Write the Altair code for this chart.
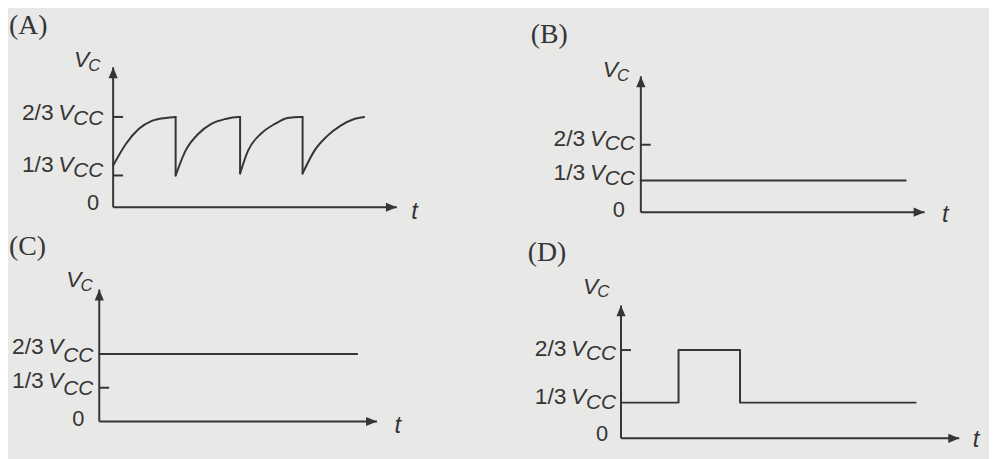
import altair as alt
import pandas as pd

# ---------------- data ----------------
PANEL_NAMES = ["(A)", "(B)", "(C)", "(D)"]
LEVELS = [0, 1 / 3, 2 / 3]
LEVEL_TEXT = ["0", "1/3", "2/3"]
UNIT_TEXT = "V"
UNIT_SUB = "CC"
Y_NAME = "V"
Y_SUB = "C"
X_NAME = "t"
V_TOP = 1.0  # top of the vertical axis (arrow tip)

# (A) charging / discharging sawtooth, t in arbitrary time units, v in fractions of Vcc
A_T = [0, 13, 26, 39, 53, 63,
       63, 63,
       63, 73, 86, 99, 113, 126, 128,
       128, 128,
       128, 136, 149, 163, 176, 189, 191,
       191, 191,
       191, 203, 216, 229, 243, 253]
A_V = [0.39, 0.514, 0.599, 0.644, 0.661, 0.667,
       0.667, 0.333,
       0.333, 0.475, 0.571, 0.627, 0.655, 0.667, 0.667,
       0.667, 0.345,
       0.345, 0.475, 0.571, 0.627, 0.661, 0.667, 0.667,
       0.667, 0.345,
       0.345, 0.475, 0.559, 0.616, 0.655, 0.667]
A_SEG = [0] * 6 + [1] * 2 + [2] * 7 + [3] * 2 + [4] * 7 + [5] * 2 + [6] * 6

# (B) constant at 1/3 Vcc
B_T = [0, 267]
B_V = [1 / 3, 1 / 3]
B_SEG = [0, 0]

# (C) constant at 2/3 Vcc
C_T = [0, 260]
C_V = [2 / 3, 2 / 3]
C_SEG = [0, 0]

# (D) single pulse
D_T = [0, 58, 58, 120, 120, 297]
D_V = [1 / 3, 1 / 3, 2 / 3, 2 / 3, 1 / 3, 1 / 3]
D_SEG = [0, 0, 0, 0, 0, 0]

SIGNALS = [(A_T, A_V, A_SEG), (B_T, B_V, B_SEG), (C_T, C_V, C_SEG), (D_T, D_V, D_SEG)]
AXIS_END = [286, 286, 280, 341]          # length of the time axis
TICKS = [[1 / 3, 2 / 3], [2 / 3], [1 / 3], [2 / 3]]
TICK_LEN = 10

# ---------------- styles / layout ----------------
INK = "#353535"
BG = "#e8e8e6"
SANS = "Liberation Sans"
SERIF = "Liberation Serif"

LAYOUT = [
    dict(w=492, h=222, xdom=[-106, 386], yr=[199, 167, 108, 58], gap=10,
         lv=[(-11, -4), (-4, 2)], zero=(-14, -4), vc=(-24, -7), name=(-105, -42),
         tl=(18, 5), interp="monotone"),
    dict(w=497, h=222, xdom=[-146, 351], yr=[204, 172, 136, 67], gap=6,
         lv=[(-7, -1), (-6, -1)], zero=(-16, -2), vc=(-23, -6), name=(-111, -42),
         tl=(21, 3), interp="linear"),
    dict(w=492, h=229, xdom=[-92, 400], yr=[193, 159, 125, 60], gap=6,
         lv=[(-7, 1), (-7, 2)], zero=(-15, -2), vc=(-18, -10), name=(-91, -43),
         tl=(21, 5), interp="linear"),
    dict(w=497, h=229, xdom=[-126, 371], yr=[210, 174, 121, 76], gap=5,
         lv=[(-6, 0), (-1, 4)], zero=(-13, -4), vc=(-23, -19), name=(-94, -53),
         tl=(17, 2), interp="linear"),
]

UP_ARROW = "M0,0L-0.42,1L0.42,1Z"
RIGHT_ARROW = "M0,0L-1,-0.42L-1,0.42Z"


def make_panel(i):
    L = LAYOUT[i]
    xs = alt.Scale(domain=L["xdom"], nice=False, zero=False)
    ys = alt.Scale(domain=[0, 1 / 3, 2 / 3, V_TOP], range=L["yr"], nice=False, zero=False)

    def X(f="t"):
        return alt.X(f"{f}:Q", scale=xs, axis=None)

    def Y(f="v"):
        return alt.Y(f"{f}:Q", scale=ys, axis=None)

    layers = []

    # axis lines
    ax = pd.DataFrame({"t": [0, 0], "v": [0, 0], "t2": [0, AXIS_END[i]], "v2": [V_TOP, 0]})
    layers.append(alt.Chart(ax).mark_rule(color=INK, strokeWidth=2).encode(
        x=X(), y=Y(), x2="t2:Q", y2="v2:Q"))

    # arrow heads
    up = pd.DataFrame({"t": [0], "v": [V_TOP]})
    layers.append(alt.Chart(up).mark_point(shape=UP_ARROW, size=484, filled=True, color=INK,
                                           opacity=1, strokeWidth=0).encode(x=X(), y=Y()))
    rt = pd.DataFrame({"t": [AXIS_END[i]], "v": [0]})
    layers.append(alt.Chart(rt).mark_point(shape=RIGHT_ARROW, size=484, filled=True, color=INK,
                                           opacity=1, strokeWidth=0).encode(x=X(), y=Y()))

    # ticks
    n = len(TICKS[i])
    tk = pd.DataFrame({"t": [0] * n, "v": TICKS[i], "t2": [TICK_LEN] * n})
    layers.append(alt.Chart(tk).mark_rule(color=INK, strokeWidth=2).encode(
        x=X(), x2="t2:Q", y=Y()))

    # signal
    T, V, S = SIGNALS[i]
    sig = pd.DataFrame({"t": T, "v": V, "seg": S, "i": list(range(len(T)))})
    layers.append(alt.Chart(sig).mark_line(color=INK, strokeWidth=2, interpolate=L["interp"],
                                           strokeCap="round", strokeJoin="round").encode(
        x=X(), y=Y(), detail="seg:N", order="i:Q"))

    def text_layer(t, v, s, dx, dy, size, italic=False, align="right", font=SANS):
        df = pd.DataFrame({"t": [t], "v": [v], "s": [s]})
        return alt.Chart(df).mark_text(
            align=align, baseline="middle", dx=dx, dy=dy, fontSize=size, font=font,
            fontStyle="italic" if italic else "normal", color=INK
        ).encode(x=X(), y=Y(), text="s:N")

    g = L["gap"]
    # zero label
    layers.append(text_layer(0, LEVELS[0], LEVEL_TEXT[0], L["zero"][0], L["zero"][1], 22))
    # fraction labels
    for k in (1, 2):
        mdy, cdy = L["lv"][k - 1]
        layers.append(text_layer(0, LEVELS[k], UNIT_SUB, -g, cdy, 21, italic=True))
        layers.append(text_layer(0, LEVELS[k], UNIT_TEXT, -(g + 30), mdy, 23, italic=True))
        layers.append(text_layer(0, LEVELS[k], LEVEL_TEXT[k], -(g + 50), mdy, 23))

    # y-axis name V_C
    vdx, vdy = L["vc"]
    layers.append(text_layer(0, V_TOP, Y_NAME, vdx, vdy, 23, italic=True))
    layers.append(text_layer(0, V_TOP, Y_SUB, vdx - 1, vdy + 6, 17, italic=True, align="left"))

    # x-axis name t
    layers.append(text_layer(AXIS_END[i], 0, X_NAME, L["tl"][0], L["tl"][1], 24,
                             italic=True, align="center"))

    # panel name
    layers.append(text_layer(0, V_TOP, PANEL_NAMES[i], L["name"][0], L["name"][1], 28,
                             align="left", font=SERIF))

    return alt.layer(*layers).properties(width=L["w"], height=L["h"])


top = alt.hconcat(make_panel(0), make_panel(1), spacing=0)
bottom = alt.hconcat(make_panel(2), make_panel(3), spacing=0)
chart = alt.vconcat(top, bottom, spacing=0).properties(
    padding=0, background=BG
).configure_view(stroke=None)

chart.save("out.html", embed_options={"renderer": "svg", "actions": False})
